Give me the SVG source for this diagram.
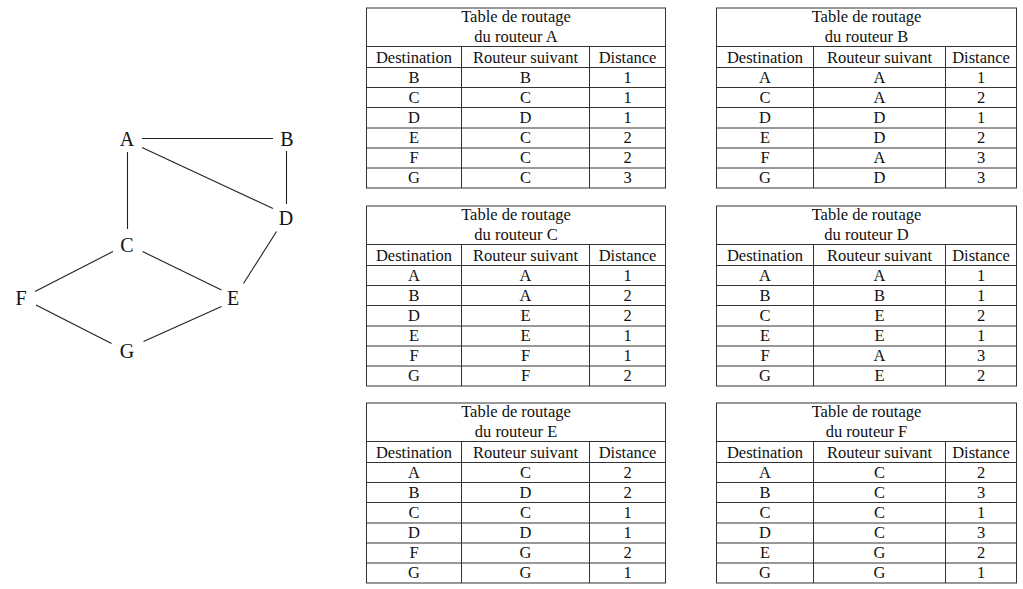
<svg xmlns="http://www.w3.org/2000/svg" width="1023" height="589" viewBox="0 0 1023 589">
<style>
text{font-family:"Liberation Serif","Times New Roman",serif;fill:#111;text-anchor:middle}
.n{font-size:20px}
.t{font-size:16.5px}
.e{stroke:#222;stroke-width:1.1;fill:none}
.g{stroke:#333;stroke-width:1;fill:none}
</style>
<rect width="1023" height="589" fill="#fff"/>
<g id="edges">
<line class="e" x1="142" y1="138.5" x2="273" y2="138.5"/>
<line class="e" x1="142" y1="147.5" x2="273" y2="208.5"/>
<line class="e" x1="127.5" y1="152" x2="127.5" y2="229"/>
<line class="e" x1="286.5" y1="151" x2="286.5" y2="204"/>
<line class="e" x1="113" y1="251.5" x2="35" y2="291.5"/>
<line class="e" x1="142.5" y1="251.5" x2="221.5" y2="290"/>
<line class="e" x1="276.5" y1="231.5" x2="243.5" y2="283.5"/>
<line class="e" x1="36" y1="305" x2="111.5" y2="343.5"/>
<line class="e" x1="143.5" y1="341.5" x2="221.5" y2="306.5"/>
</g>
<g id="node-A"><text class="n" x="127" y="146">A</text></g>
<g id="node-B"><text class="n" x="287" y="146">B</text></g>
<g id="node-D"><text class="n" x="286" y="225">D</text></g>
<g id="node-C"><text class="n" x="127" y="252">C</text></g>
<g id="node-F"><text class="n" x="21" y="305">F</text></g>
<g id="node-E"><text class="n" x="233" y="305">E</text></g>
<g id="node-G"><text class="n" x="127" y="358">G</text></g>

<defs>
<g id="grid-l">
<rect class="g" x="366.5" y="0.5" width="299" height="180"/>
<line class="g" x1="366.5" y1="39" x2="665.5" y2="39"/>
<line class="g" x1="366.5" y1="60" x2="665.5" y2="60"/>
<line class="g" x1="366.5" y1="80" x2="665.5" y2="80"/>
<line class="g" x1="366.5" y1="100" x2="665.5" y2="100"/>
<line class="g" x1="366.5" y1="120.5" x2="665.5" y2="120.5"/>
<line class="g" x1="366.5" y1="140.5" x2="665.5" y2="140.5"/>
<line class="g" x1="366.5" y1="160.5" x2="665.5" y2="160.5"/>
<line class="g" x1="461.5" y1="39" x2="461.5" y2="180.5"/>
<line class="g" x1="589.5" y1="39" x2="589.5" y2="180.5"/>
</g>
<g id="grid-r">
<rect class="g" x="716.5" y="0.5" width="300" height="180"/>
<line class="g" x1="716.5" y1="39" x2="1016.5" y2="39"/>
<line class="g" x1="716.5" y1="60" x2="1016.5" y2="60"/>
<line class="g" x1="716.5" y1="80" x2="1016.5" y2="80"/>
<line class="g" x1="716.5" y1="100" x2="1016.5" y2="100"/>
<line class="g" x1="716.5" y1="120.5" x2="1016.5" y2="120.5"/>
<line class="g" x1="716.5" y1="140.5" x2="1016.5" y2="140.5"/>
<line class="g" x1="716.5" y1="160.5" x2="1016.5" y2="160.5"/>
<line class="g" x1="813.5" y1="39" x2="813.5" y2="180.5"/>
<line class="g" x1="945.5" y1="39" x2="945.5" y2="180.5"/>
</g>
</defs>

<g id="table-A" transform="translate(0,7.5)">
<use href="#grid-l"/>
<text class="t" x="516" y="14.5">Table de routage</text>
<text class="t" x="516" y="34.5">du routeur A</text>
<text class="t" x="414" y="55">Destination</text><text class="t" x="525.5" y="55">Routeur suivant</text><text class="t" x="627.5" y="55">Distance</text>
<text class="t" x="414" y="75">B</text><text class="t" x="525.5" y="75">B</text><text class="t" x="627.5" y="75">1</text>
<text class="t" x="414" y="95">C</text><text class="t" x="525.5" y="95">C</text><text class="t" x="627.5" y="95">1</text>
<text class="t" x="414" y="115.5">D</text><text class="t" x="525.5" y="115.5">D</text><text class="t" x="627.5" y="115.5">1</text>
<text class="t" x="414" y="135.5">E</text><text class="t" x="525.5" y="135.5">C</text><text class="t" x="627.5" y="135.5">2</text>
<text class="t" x="414" y="155.5">F</text><text class="t" x="525.5" y="155.5">C</text><text class="t" x="627.5" y="155.5">2</text>
<text class="t" x="414" y="175.5">G</text><text class="t" x="525.5" y="175.5">C</text><text class="t" x="627.5" y="175.5">3</text>
</g>

<g id="table-B" transform="translate(0,7.5)">
<use href="#grid-r"/>
<text class="t" x="866.5" y="14.5">Table de routage</text>
<text class="t" x="866.5" y="34.5">du routeur B</text>
<text class="t" x="765" y="55">Destination</text><text class="t" x="879.5" y="55">Routeur suivant</text><text class="t" x="981" y="55">Distance</text>
<text class="t" x="765" y="75">A</text><text class="t" x="879.5" y="75">A</text><text class="t" x="981" y="75">1</text>
<text class="t" x="765" y="95">C</text><text class="t" x="879.5" y="95">A</text><text class="t" x="981" y="95">2</text>
<text class="t" x="765" y="115.5">D</text><text class="t" x="879.5" y="115.5">D</text><text class="t" x="981" y="115.5">1</text>
<text class="t" x="765" y="135.5">E</text><text class="t" x="879.5" y="135.5">D</text><text class="t" x="981" y="135.5">2</text>
<text class="t" x="765" y="155.5">F</text><text class="t" x="879.5" y="155.5">A</text><text class="t" x="981" y="155.5">3</text>
<text class="t" x="765" y="175.5">G</text><text class="t" x="879.5" y="175.5">D</text><text class="t" x="981" y="175.5">3</text>
</g>

<g id="table-C" transform="translate(0,205.5)">
<use href="#grid-l"/>
<text class="t" x="516" y="14.5">Table de routage</text>
<text class="t" x="516" y="34.5">du routeur C</text>
<text class="t" x="414" y="55">Destination</text><text class="t" x="525.5" y="55">Routeur suivant</text><text class="t" x="627.5" y="55">Distance</text>
<text class="t" x="414" y="75">A</text><text class="t" x="525.5" y="75">A</text><text class="t" x="627.5" y="75">1</text>
<text class="t" x="414" y="95">B</text><text class="t" x="525.5" y="95">A</text><text class="t" x="627.5" y="95">2</text>
<text class="t" x="414" y="115.5">D</text><text class="t" x="525.5" y="115.5">E</text><text class="t" x="627.5" y="115.5">2</text>
<text class="t" x="414" y="135.5">E</text><text class="t" x="525.5" y="135.5">E</text><text class="t" x="627.5" y="135.5">1</text>
<text class="t" x="414" y="155.5">F</text><text class="t" x="525.5" y="155.5">F</text><text class="t" x="627.5" y="155.5">1</text>
<text class="t" x="414" y="175.5">G</text><text class="t" x="525.5" y="175.5">F</text><text class="t" x="627.5" y="175.5">2</text>
</g>

<g id="table-D" transform="translate(0,205.5)">
<use href="#grid-r"/>
<text class="t" x="866.5" y="14.5">Table de routage</text>
<text class="t" x="866.5" y="34.5">du routeur D</text>
<text class="t" x="765" y="55">Destination</text><text class="t" x="879.5" y="55">Routeur suivant</text><text class="t" x="981" y="55">Distance</text>
<text class="t" x="765" y="75">A</text><text class="t" x="879.5" y="75">A</text><text class="t" x="981" y="75">1</text>
<text class="t" x="765" y="95">B</text><text class="t" x="879.5" y="95">B</text><text class="t" x="981" y="95">1</text>
<text class="t" x="765" y="115.5">C</text><text class="t" x="879.5" y="115.5">E</text><text class="t" x="981" y="115.5">2</text>
<text class="t" x="765" y="135.5">E</text><text class="t" x="879.5" y="135.5">E</text><text class="t" x="981" y="135.5">1</text>
<text class="t" x="765" y="155.5">F</text><text class="t" x="879.5" y="155.5">A</text><text class="t" x="981" y="155.5">3</text>
<text class="t" x="765" y="175.5">G</text><text class="t" x="879.5" y="175.5">E</text><text class="t" x="981" y="175.5">2</text>
</g>

<g id="table-E" transform="translate(0,402.5)">
<use href="#grid-l"/>
<text class="t" x="516" y="14.5">Table de routage</text>
<text class="t" x="516" y="34.5">du routeur E</text>
<text class="t" x="414" y="55">Destination</text><text class="t" x="525.5" y="55">Routeur suivant</text><text class="t" x="627.5" y="55">Distance</text>
<text class="t" x="414" y="75">A</text><text class="t" x="525.5" y="75">C</text><text class="t" x="627.5" y="75">2</text>
<text class="t" x="414" y="95">B</text><text class="t" x="525.5" y="95">D</text><text class="t" x="627.5" y="95">2</text>
<text class="t" x="414" y="115.5">C</text><text class="t" x="525.5" y="115.5">C</text><text class="t" x="627.5" y="115.5">1</text>
<text class="t" x="414" y="135.5">D</text><text class="t" x="525.5" y="135.5">D</text><text class="t" x="627.5" y="135.5">1</text>
<text class="t" x="414" y="155.5">F</text><text class="t" x="525.5" y="155.5">G</text><text class="t" x="627.5" y="155.5">2</text>
<text class="t" x="414" y="175.5">G</text><text class="t" x="525.5" y="175.5">G</text><text class="t" x="627.5" y="175.5">1</text>
</g>

<g id="table-F" transform="translate(0,402.5)">
<use href="#grid-r"/>
<text class="t" x="866.5" y="14.5">Table de routage</text>
<text class="t" x="866.5" y="34.5">du routeur F</text>
<text class="t" x="765" y="55">Destination</text><text class="t" x="879.5" y="55">Routeur suivant</text><text class="t" x="981" y="55">Distance</text>
<text class="t" x="765" y="75">A</text><text class="t" x="879.5" y="75">C</text><text class="t" x="981" y="75">2</text>
<text class="t" x="765" y="95">B</text><text class="t" x="879.5" y="95">C</text><text class="t" x="981" y="95">3</text>
<text class="t" x="765" y="115.5">C</text><text class="t" x="879.5" y="115.5">C</text><text class="t" x="981" y="115.5">1</text>
<text class="t" x="765" y="135.5">D</text><text class="t" x="879.5" y="135.5">C</text><text class="t" x="981" y="135.5">3</text>
<text class="t" x="765" y="155.5">E</text><text class="t" x="879.5" y="155.5">G</text><text class="t" x="981" y="155.5">2</text>
<text class="t" x="765" y="175.5">G</text><text class="t" x="879.5" y="175.5">G</text><text class="t" x="981" y="175.5">1</text>
</g>
</svg>
